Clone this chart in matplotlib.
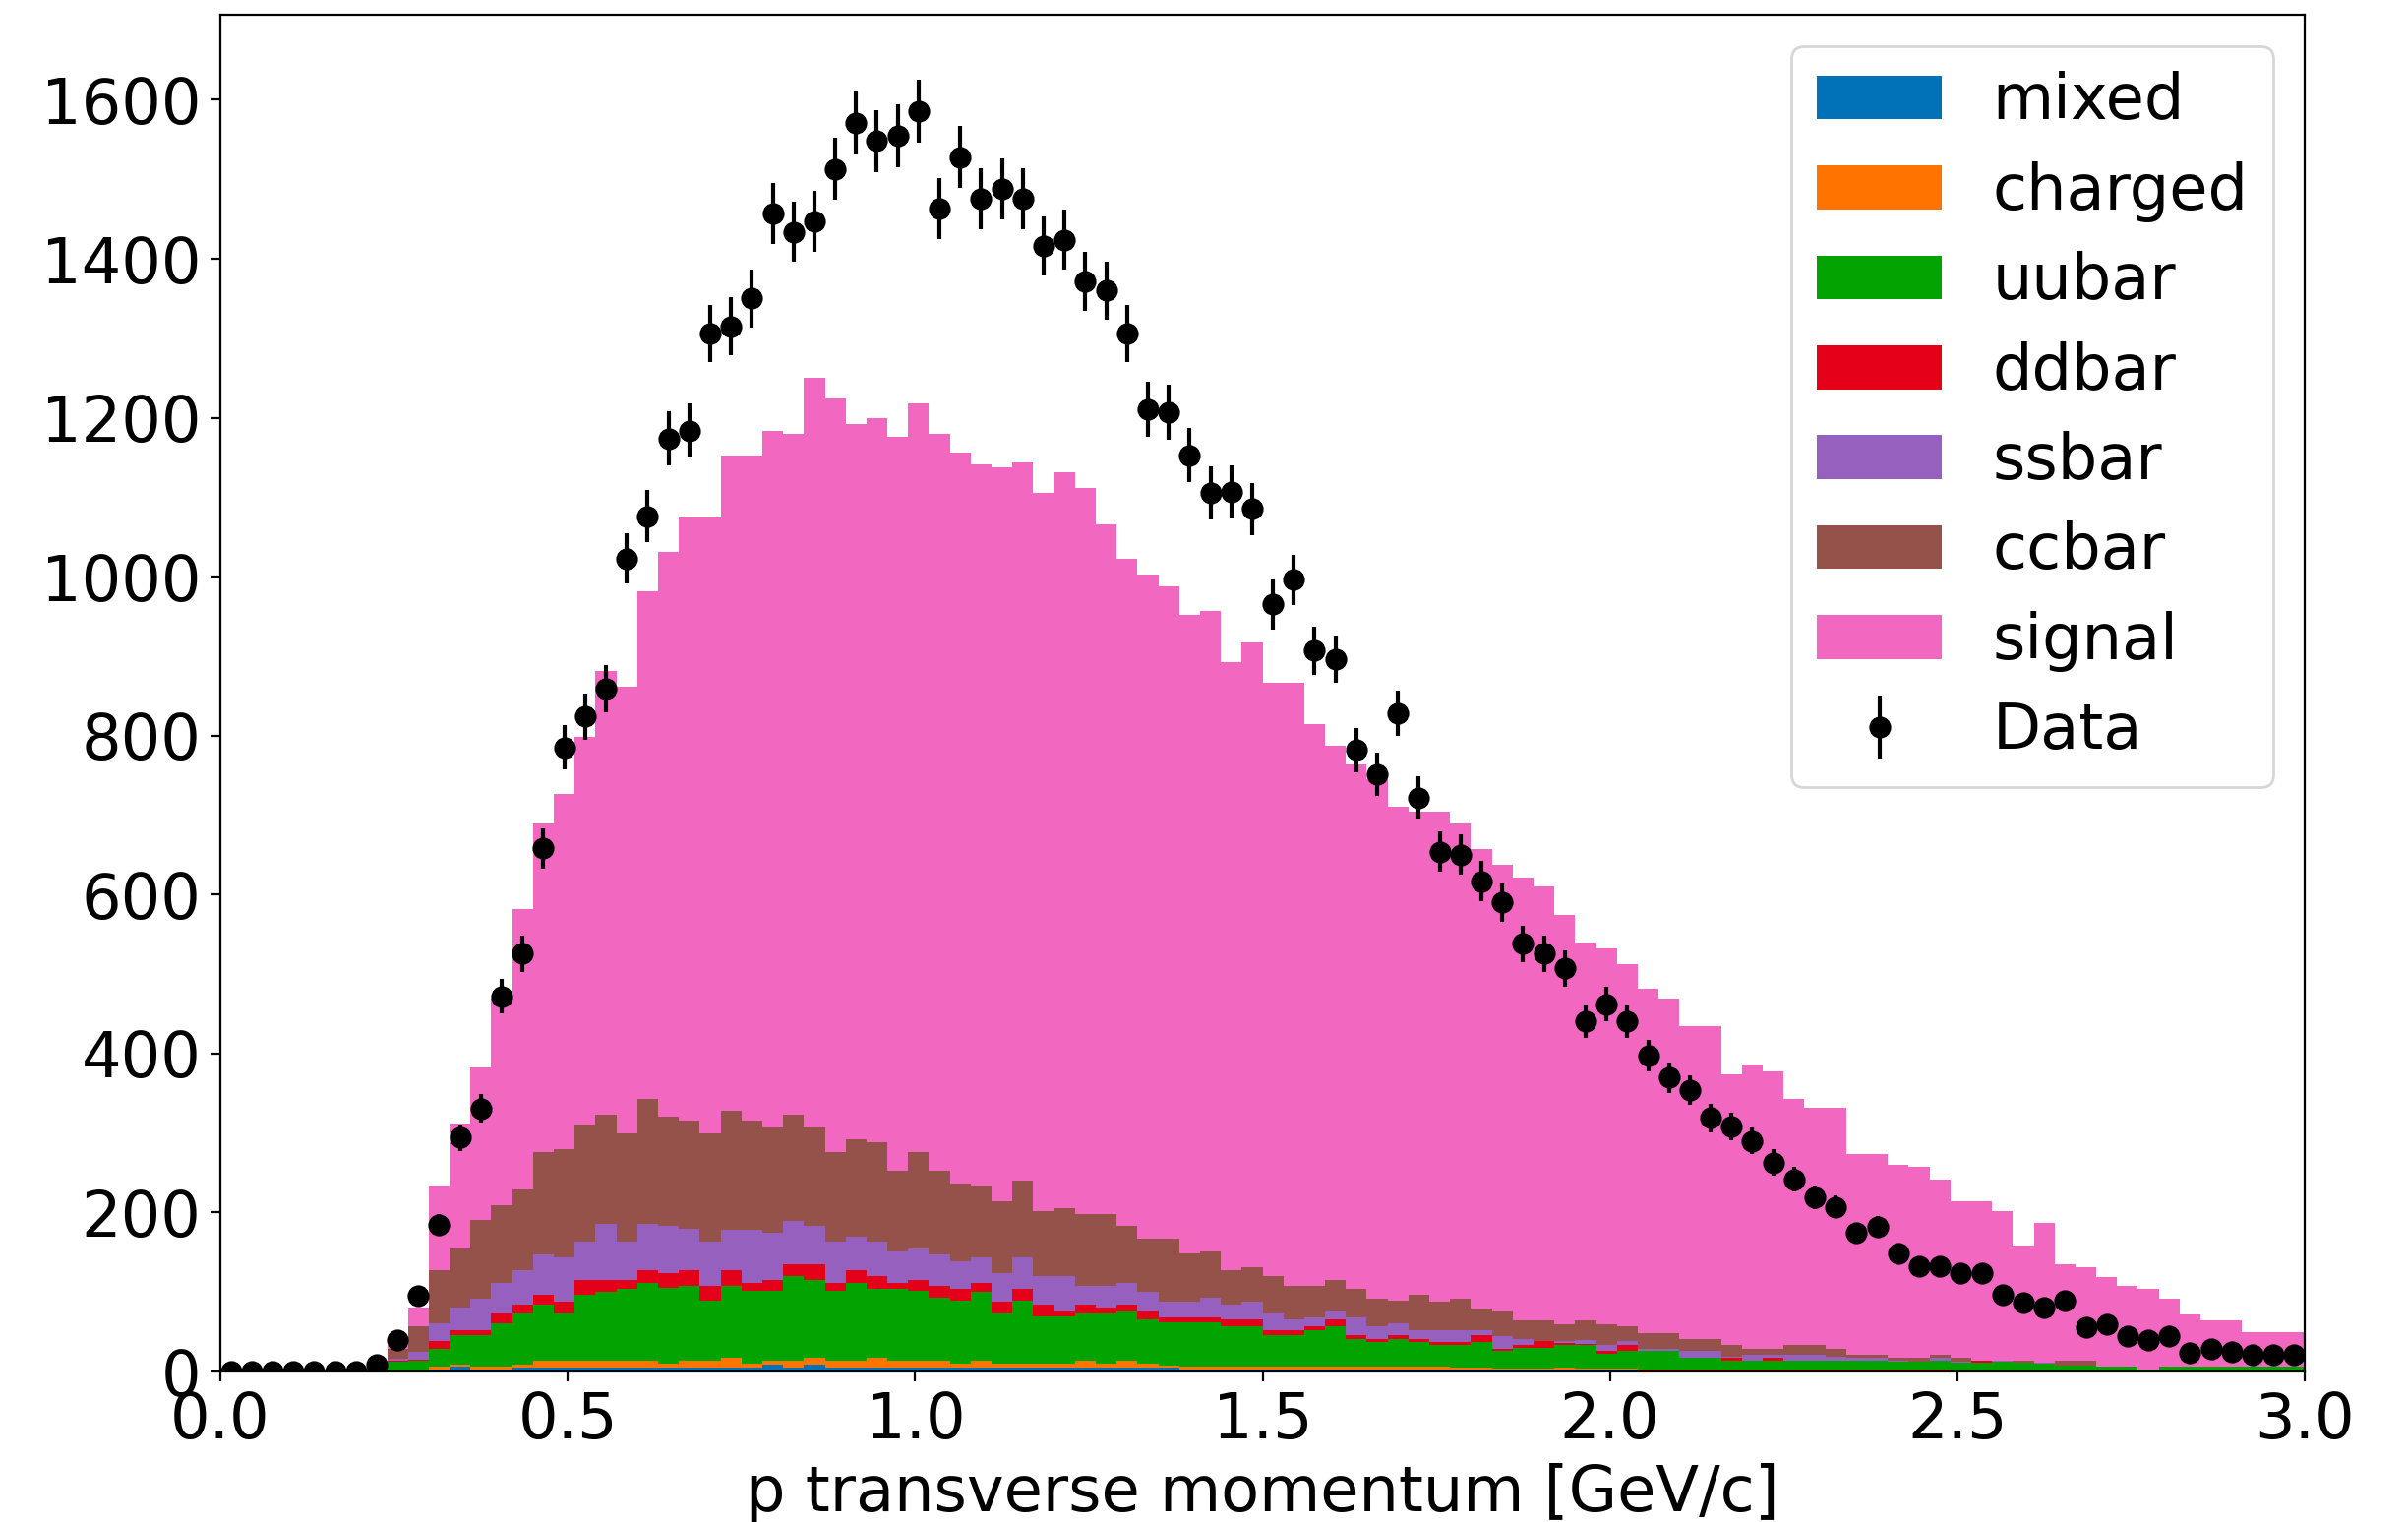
import matplotlib.pyplot as plt
import numpy as np

plt.rcParams['font.family'] = ['DejaVu Sans']
plt.rcParams['font.size'] = 23

# 100 bins of 0.03 GeV/c between 0 and 3
edges = np.linspace(0.0, 3.0, 101)
centers = 0.5 * (edges[1:] + edges[:-1])

mixed = [0, 0, 0, 0, 0, 0, 0, 0, 0, 0,
         3, 6, 3, 3, 5, 5, 5, 5, 5, 5,
         5, 5, 5, 5, 5, 5, 9, 5, 9, 5,
         5, 5, 5, 5, 5, 5, 5, 5, 5, 5,
         5, 5, 5, 5, 5, 5, 3, 3, 3, 3,
         3, 3, 3, 3, 3, 3, 3, 3, 3, 2,
         2, 2, 2, 2, 2, 2, 2, 2, 1, 1,
         1, 1, 1, 1, 1, 1, 1, 1, 1, 1,
         1, 1, 1, 1, 1, 0, 0, 0, 0, 0,
         0, 0, 0, 0, 0, 0, 0, 0, 0, 0]
charged = [0, 0, 0, 0, 0, 0, 0, 0, 1, 1,
           3, 3, 3, 3, 4, 9, 9, 9, 9, 9,
           9, 5, 9, 9, 12, 5, 4, 8, 8, 9,
           9, 12, 9, 9, 9, 5, 9, 5, 5, 5,
           5, 9, 5, 9, 5, 3, 3, 3, 3, 3,
           3, 3, 3, 3, 3, 3, 3, 3, 3, 3,
           3, 2, 2, 2, 3, 2, 2, 2, 2, 2,
           2, 2, 2, 1, 1, 1, 1, 1, 1, 1,
           1, 1, 1, 0, 0, 1, 1, 1, 1, 1,
           1, 1, 0, 1, 1, 1, 1, 1, 1, 1]
uubar = [0, 0, 0, 0, 0, 0, 0, 1, 11, 13,
         23, 37, 40, 55, 64, 70, 59, 83, 86, 90,
         98, 95, 94, 75, 91, 91, 88, 107, 98, 87,
         98, 87, 90, 87, 79, 79, 86, 63, 79, 59,
         59, 59, 63, 62, 55, 54, 56, 56, 51, 51,
         40, 40, 46, 51, 35, 31, 35, 31, 27, 28,
         32, 22, 26, 26, 28, 29, 18, 22, 23, 23,
         14, 14, 11, 12, 12, 12, 12, 12, 12, 12,
         10, 10, 12, 10, 10, 11, 10, 9, 6, 6,
         5, 5, 2, 5, 5, 5, 5, 5, 5, 5]
ddbar = [0, 0, 0, 0, 0, 0, 0, 0, 1, 1,
         9, 6, 6, 12, 11, 13, 15, 18, 15, 11,
         16, 19, 20, 19, 20, 11, 14, 15, 20, 11,
         16, 16, 8, 14, 15, 15, 12, 15, 15, 15,
         7, 11, 8, 8, 11, 6, 6, 6, 8, 8,
         6, 6, 5, 8, 5, 4, 5, 4, 4, 4,
         9, 2, 3, 8, 3, 2, 4, 7, 0, 0,
         0, 0, 3, 0, 3, 0, 0, 0, 0, 0,
         0, 0, 0, 0, 3, 0, 0, 0, 0, 0,
         0, 0, 0, 0, 0, 0, 0, 0, 0, 0]
ssbar = [0, 0, 0, 0, 0, 0, 0, 0, 3, 10,
         23, 28, 40, 38, 43, 50, 55, 48, 71, 48,
         58, 59, 51, 55, 50, 66, 60, 55, 48, 52,
         42, 43, 39, 40, 39, 35, 31, 36, 39, 36,
         44, 24, 27, 27, 24, 20, 20, 25, 19, 23,
         21, 13, 11, 11, 22, 16, 15, 11, 15, 15,
         6, 16, 8, 0, 2, 5, 7, 5, 3, 3,
         9, 9, 2, 7, 4, 7, 7, 5, 3, 3,
         2, 0, 3, 1, 0, 2, 0, 1, 1, 0,
         0, 0, 0, 0, 0, 0, 0, 0, 0, 0]
ccbar = [0, 0, 0, 0, 0, 0, 0, 1, 12, 32,
         67, 75, 99, 98, 102, 129, 137, 148, 137, 137,
         157, 137, 137, 137, 150, 138, 132, 133, 124, 112,
         122, 125, 102, 121, 106, 98, 91, 90, 97, 82,
         85, 90, 90, 72, 67, 79, 60, 58, 44, 43,
         47, 43, 40, 39, 36, 35, 28, 44, 36, 40,
         27, 32, 23, 26, 21, 24, 26, 19, 19, 19,
         15, 15, 14, 8, 8, 12, 12, 10, 4, 4,
         3, 5, 4, 5, 0, 0, 3, 0, 6, 7,
         0, 0, 0, 0, 0, 0, 0, 0, 0, 0]
signal = [0, 0, 0, 0, 0, 0, 0, 2, 5, 23,
          106, 157, 192, 260, 353, 413, 447, 488, 558, 561,
          638, 711, 758, 774, 825, 837, 877, 857, 943, 948,
          900, 912, 923, 942, 927, 919, 907, 923, 904, 903,
          927, 914, 868, 839, 836, 821, 804, 806, 765, 786,
          746, 758, 706, 672, 660, 653, 621, 608, 616, 598,
          578, 562, 558, 546, 515, 476, 473, 455, 433, 421,
          393, 393, 341, 357, 349, 310, 299, 303, 252, 252,
          243, 240, 220, 197, 200, 188, 145, 176, 121, 117,
          113, 102, 102, 86, 66, 58, 58, 43, 43, 43]
data = [0, 0, 0, 0, 0, 0, 0, 9, 40, 95,
        185, 294, 331, 472, 526, 658, 785, 824, 859, 1023,
        1076, 1174, 1184, 1306, 1315, 1350, 1457, 1434, 1447, 1513,
        1571, 1548, 1555, 1586, 1463, 1528, 1476, 1488, 1476, 1416,
        1424, 1372, 1360, 1306, 1211, 1207, 1153, 1105, 1107, 1085,
        965, 996, 907, 896, 782, 751, 828, 722, 654, 650,
        617, 590, 538, 526, 507, 441, 462, 441, 397, 370,
        354, 319, 308, 290, 263, 242, 219, 207, 174, 182,
        149, 133, 133, 124, 124, 97, 87, 81, 89, 56,
        60, 44, 39, 44, 23, 29, 25, 21, 21, 21]

labels = ['mixed', 'charged', 'uubar', 'ddbar', 'ssbar', 'ccbar', 'signal']
colors = ['#0171b8', '#ff7300', '#00a300', '#e5001a', '#9660be', '#95524a', '#f268c0']
components = [mixed, charged, uubar, ddbar, ssbar, ccbar, signal]

fig = plt.figure(figsize=(12.24, 7.735), dpi=200)
ax = fig.add_axes([224 / 2448, 153 / 1547, 2119 / 2448, 1379 / 1547])

_, _, patches = ax.hist([centers] * len(components), bins=edges, weights=components,
                        stacked=True, histtype='stepfilled', color=colors, label=labels)
eb = ax.errorbar(centers, data, yerr=np.sqrt(data), fmt='o', color='k',
                 markersize=7, label='Data')

ax.set_xlim(0, 3.0)
ax.set_ylim(0, 1707)
ax.set_xlabel('p transverse momentum [GeV/c]')

# legend in stacking order, bottom layer first
handles = [p[0] for p in patches] + [eb]
ax.legend(handles, labels + ['Data'], loc='upper right', labelspacing=0.46)

fig.savefig('out.png', dpi=200)
